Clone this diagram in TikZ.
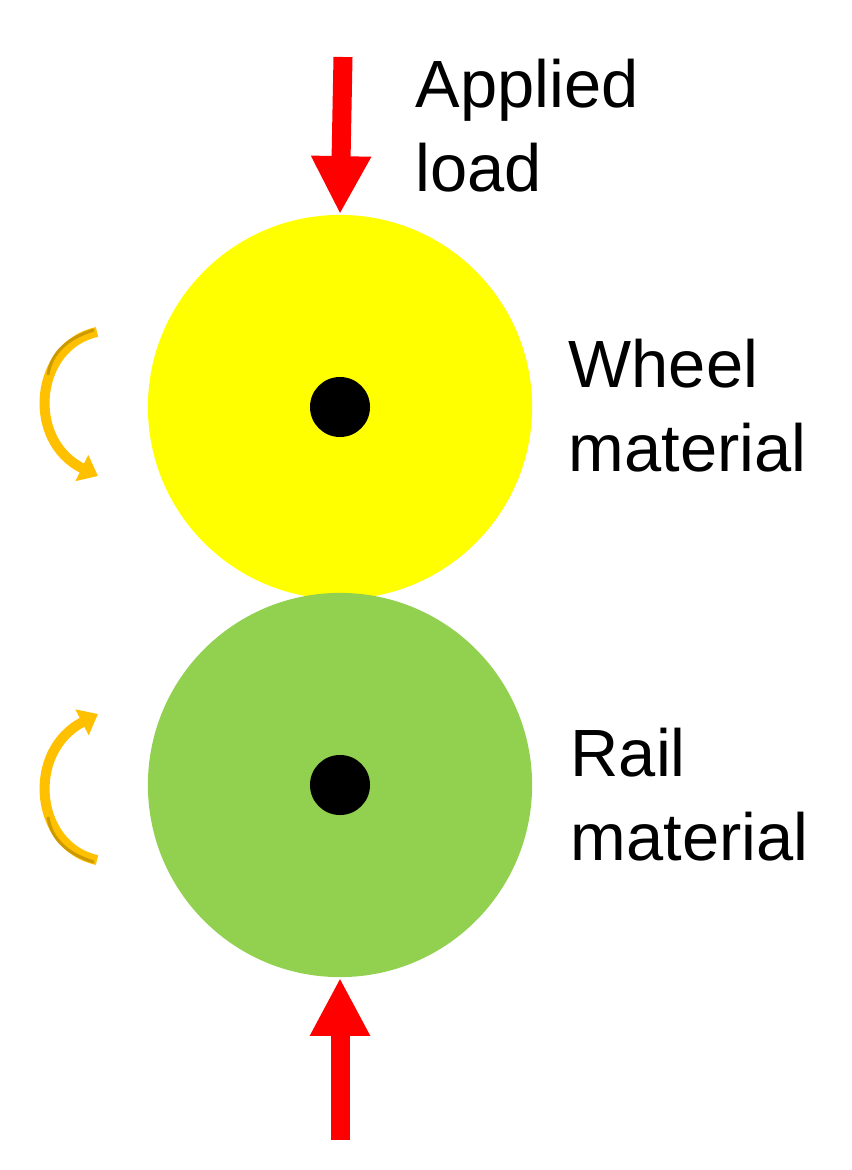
\documentclass[tikz,border=0pt]{standalone}
\usepackage{fontspec}
\setmainfont{Liberation Sans}
\usetikzlibrary{arrows.meta}
\definecolor{wheel}{HTML}{FFFF00}
\definecolor{rail}{HTML}{92D050}
\definecolor{rot}{HTML}{FFC000}
\definecolor{rotdark}{HTML}{CC9900}
\begin{document}
\begin{tikzpicture}[x=0.01cm,y=-0.01cm,
  disc/.style={circle,minimum size=3.84cm,inner sep=0},
  hub/.style={circle,fill=black,minimum size=0.6cm,inner sep=0},
  load/.style={red,line width=0.19cm,-{Triangle[length=0.58cm,width=0.56cm]}},
  lbl/.style={font=\fontsize{19}{24}\selectfont,align=left,anchor=north west,inner sep=0},
  rotarr/.style={rot,line width=0.1cm,-{Triangle[length=0.18cm,width=0.28cm]}}]
\useasboundingbox (0,0) rectangle (851,1170);
\node[disc,fill=wheel] (w) at (340,407) {};
\node[disc,fill=rail] (r) at (340,785) {};
\node[hub] (wh) at (340,407) {};
\node[hub] (rh) at (340,785) {};
\coordinate (t0) at (343,57);
\coordinate (b0) at (340,1140);
\draw[load] (t0) -- (w.north);
\draw[load] (b0) -- (r.south);
\node[lbl] (al) at (415,58) {Applied\\load};
\node[lbl] (wl) at (568,338) {Wheel\\material};
\node[lbl] (rl) at (570,727) {Rail\\material};
\coordinate (a1) at (97,332);
\coordinate (a2) at (98,476);
\coordinate (c1) at (97,860);
\coordinate (c2) at (98,714);
\draw[rotarr] (a1) .. controls (35,345) and (25,440) .. (a2);
\draw[rotdark,line width=0.03cm] (94,330) .. controls (60,340) and (50,360) .. (48,375);
\draw[rotarr] (c1) .. controls (35,847) and (25,752) .. (c2);
\draw[rotdark,line width=0.03cm] (94,862) .. controls (60,852) and (50,832) .. (48,817);
\end{tikzpicture}
\end{document}
